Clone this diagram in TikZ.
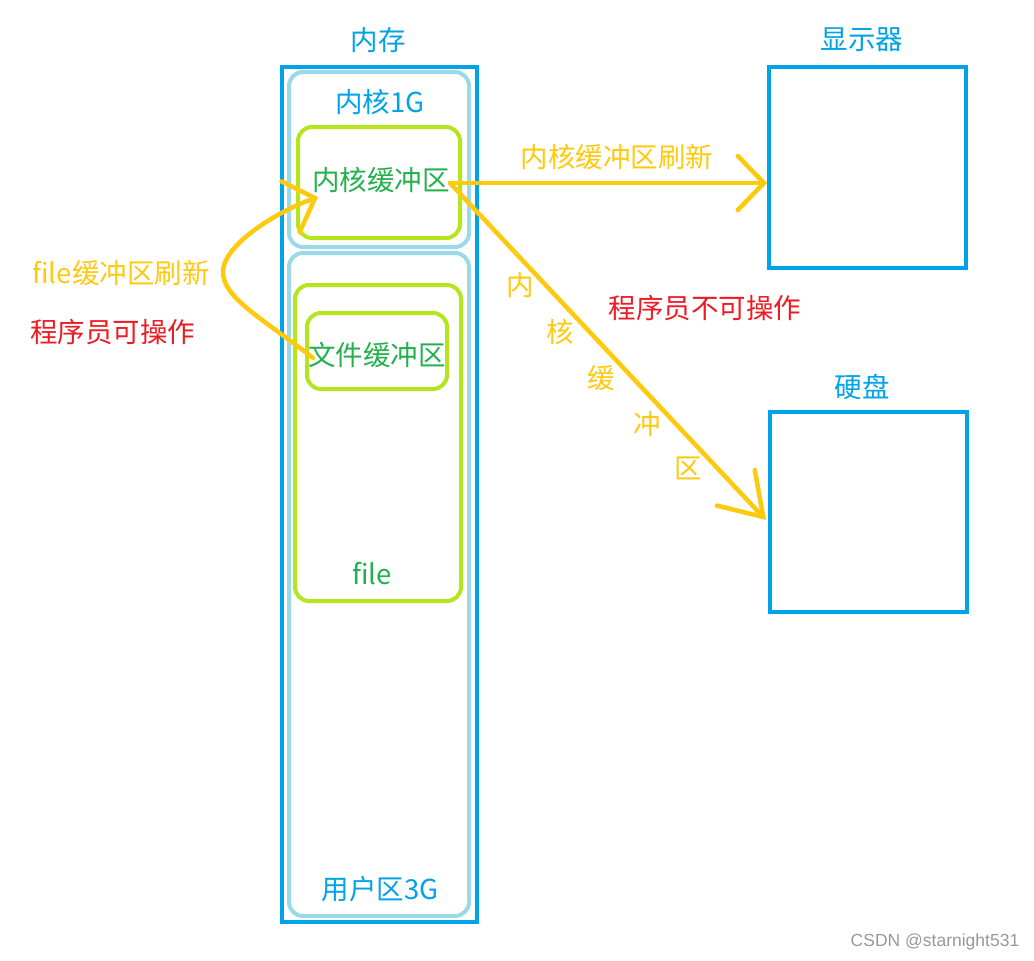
\documentclass[tikz,border=0pt]{standalone}
\usepackage{fontspec}
\setmainfont{Noto Sans CJK SC}
\newfontfamily\wmfont{Liberation Sans}
\usetikzlibrary{arrows.meta,calc}
\definecolor{cblue}{HTML}{00A2E8}
\definecolor{clblue}{HTML}{99D9EA}
\definecolor{clime}{HTML}{B5E61D}
\definecolor{cgreen}{HTML}{22B14C}
\definecolor{corange}{HTML}{FFC90E}
\definecolor{cred}{HTML}{ED1C24}
\tikzset{
  box/.style={draw=cblue,line width=4pt,inner sep=0pt},
  zone/.style={draw=clblue,line width=4pt,rounded corners=14pt,inner sep=0pt},
  buf/.style={draw=clime,line width=4pt,rounded corners=14pt,inner sep=0pt},
  lbl/.style={inner sep=0pt,font=\fontsize{27.5pt}{30pt}\selectfont},
  bluet/.style={lbl,text=cblue},
  greent/.style={lbl,text=cgreen},
  oranget/.style={lbl,text=corange},
  redt/.style={lbl,text=cred},
  arr/.style={draw=corange,line width=4.5pt,line cap=round,line join=round,
    -{Straight Barb[length=26pt,width=54pt,line cap=round]}},
}
\begin{document}
\begin{tikzpicture}[x=1pt,y=-1pt]
\useasboundingbox[fill=white] (0,0) rectangle (1034,961);
% memory
\node[box,minimum width=195pt,minimum height=855pt] (mem) at (379.5,494.5) {};
\node[zone,minimum width=180pt,minimum height=175pt] (kern) at (379,159.5) {};
\node[zone,minimum width=180pt,minimum height=663pt] (user) at (379,584.5) {};
\node[buf,minimum width=162pt,minimum height=111pt] (kbuf) at (379,182.5) {};
\node[buf,minimum width=166pt,minimum height=316pt] (filebox) at (378,443) {};
\node[buf,minimum width=140pt,minimum height=76pt] (fbuf) at (377,351) {};
% devices
\node[box,minimum width=197pt,minimum height=201pt] (disp) at (867.5,167.5) {};
\node[box,minimum width=197pt,minimum height=200pt] (disk) at (868.5,512) {};
% labels
\node[bluet] (tmem) at (378,40) {内存};
\node[bluet] (tdisp) at (862,40) {显示器};
\node[bluet] (tdisk) at (862,387) {硬盘};
\node[bluet] (tkern) at (380,102) {内核1G};
\node[bluet] (tuser) at (380,889) {用户区3G};
\node[greent] (tkbuf) at (381,180) {内核缓冲区};
\node[greent] (tfbuf) at (377,355) {文件缓冲区};
\node[greent] (tfile) at (372,574) {file};
\node[oranget] (tflush) at (617,157) {内核缓冲区刷新};
\node[oranget] (tfflush) at (121,273) {file缓冲区刷新};
\node[redt] (tprog) at (113,332) {程序员可操作};
\node[redt] (tnoprog) at (705,308) {程序员不可操作};
\node[oranget] (v1) at (520,285) {内};
\node[oranget] (v2) at (560,332) {核};
\node[oranget] (v3) at (601,378) {缓};
\node[oranget] (v4) at (647,424) {冲};
\node[oranget] (v5) at (688,468) {区};
\node[inner sep=0pt,text=black!40,font=\wmfont\fontsize{17.5pt}{19pt}\selectfont] (wm) at (935,942) {CSDN @starnight531};
% arrows
\coordinate (src) at (450,183);
\coordinate (fsrc) at (313,358);
\coordinate (fdst) at (318,197);
\draw[arr] (src) -- (src -| disp.west);
\draw[arr,-{Straight Barb[length=40pt,width=52pt,line cap=round]}] (src) -- ($(disk.west)+(-2,8)$);
\draw[arr] (fsrc) .. controls (262,318) and (223,298) .. (223,272)
  .. controls (223,245) and (276,212) .. (fdst);
\end{tikzpicture}
\end{document}
